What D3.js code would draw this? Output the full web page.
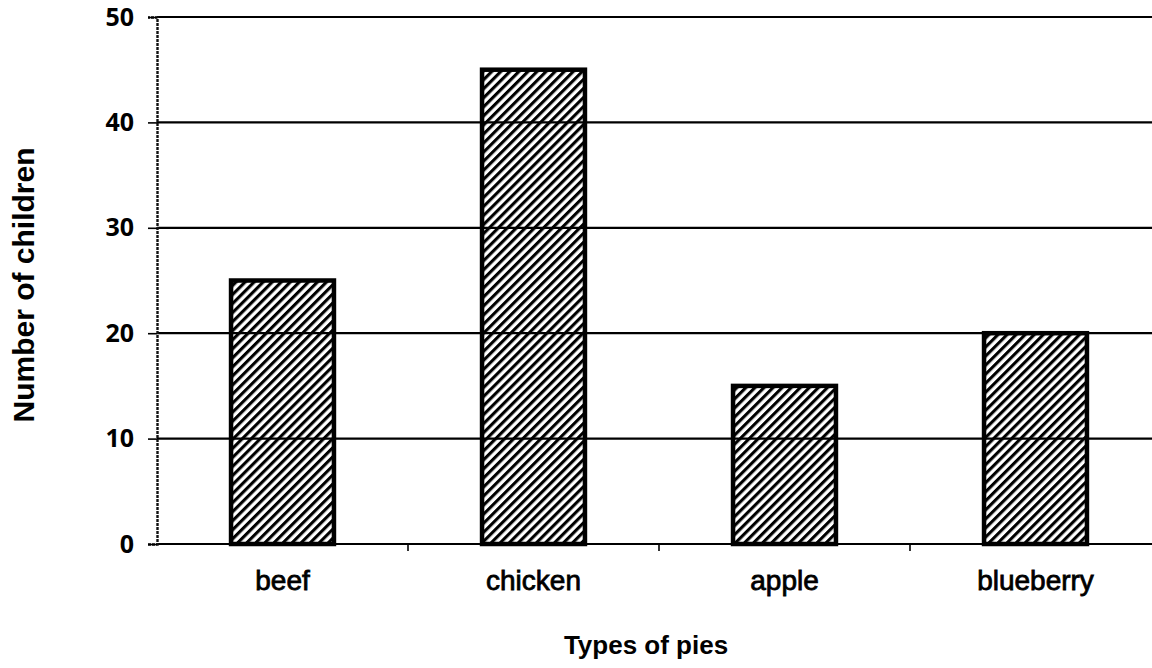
<!DOCTYPE html>
<html>
<head>
<meta charset="utf-8">
<script src="https://cdn.jsdelivr.net/npm/d3@7"></script>
<style>
  body { margin: 0; background: #fff; }
  svg { display: block; }
</style>
</head>
<body>
<div class="svg-container"></div>
<script>
const pies = ['beef', 'chicken', 'apple', 'blueberry']
const children = [25, 45, 15, 20]
const yTicks = [0, 10, 20, 30, 40, 50]

const width = 1152
const height = 668
const margin = { top: 17, right: -9, bottom: 124, left: 157 }

const svg = d3.select('.svg-container').append('svg')
  .attr('width', width)
  .attr('height', height)

// diagonal hatch for the bars
const defs = svg.append('defs')
defs.append('pattern')
  .attr('id', 'hatch')
  .attr('patternUnits', 'userSpaceOnUse')
  .attr('width', 6.4)
  .attr('height', 6.4)
  .attr('patternTransform', 'rotate(45)')
  .append('rect')
  .attr('x', 0)
  .attr('y', 0)
  .attr('width', 3.1)
  .attr('height', 6.4)
  .attr('fill', '#000')

const x = d3.scaleBand()
  .domain(pies)
  .range([margin.left, width - margin.right])
  .paddingInner(0.59)
  .paddingOuter(0.295)

const y = d3.scaleLinear()
  .domain([0, 50])
  .range([height - margin.bottom, margin.top])

// horizontal grid lines
svg.append('g')
  .selectAll('line')
  .data(yTicks)
  .enter()
  .append('line')
  .attr('x1', margin.left)
  .attr('x2', width)
  .attr('y1', d => y(d))
  .attr('y2', d => y(d))
  .attr('stroke', '#000')
  .attr('stroke-width', 2.2)

// y axis
const yAxis = svg.append('g')
  .attr('transform', `translate(${margin.left},0)`)
  .call(d3.axisLeft(y).tickValues(yTicks).tickSize(9).tickPadding(14))
yAxis.select('.domain')
  .attr('stroke', '#111')
  .attr('stroke-width', 2.4)
  .attr('stroke-dasharray', '3,1')
yAxis.selectAll('.tick line').attr('stroke', '#000').attr('stroke-width', 1.6)
yAxis.selectAll('.tick text')
  .attr('fill', '#000')
  .style('font-family', '"Open Sans", sans-serif')
  .style('font-weight', 'bold')
  .style('font-size', '25px')

// small ticks under the category boundaries
const bounds = pies.map(p => x(p) - x.step() * x.paddingOuter())
svg.append('g')
  .selectAll('line')
  .data(bounds.slice(1))
  .enter()
  .append('line')
  .attr('x1', d => d)
  .attr('x2', d => d)
  .attr('y1', y(0))
  .attr('y2', y(0) + 7)
  .attr('stroke', '#000')
  .attr('stroke-width', 1.6)

// bars
svg.append('g')
  .selectAll('rect')
  .data(children)
  .enter()
  .append('rect')
  .attr('x', (d, i) => x(pies[i]))
  .attr('y', d => y(d))
  .attr('width', x.bandwidth())
  .attr('height', d => y(0) - y(d))
  .attr('fill', 'url(#hatch)')
  .attr('stroke', '#000')
  .attr('stroke-width', 4.5)

// category labels
svg.append('g')
  .selectAll('text')
  .data(pies)
  .enter()
  .append('text')
  .attr('x', d => x(d) + x.bandwidth() / 2)
  .attr('y', 590)
  .attr('text-anchor', 'middle')
  .style('font-family', '"Liberation Sans", Arial, sans-serif')
  .style('font-size', '28px')
  .style('stroke', '#000')
  .style('stroke-width', 0.8)
  .text(d => d)

// axis titles
svg.append('text')
  .attr('x', 646)
  .attr('y', 654)
  .attr('text-anchor', 'middle')
  .style('font-family', '"Liberation Sans", Arial, sans-serif')
  .style('font-weight', 'bold')
  .style('font-size', '26px')
  .text('Types of pies')

svg.append('text')
  .attr('transform', 'translate(34,285) rotate(-90)')
  .attr('text-anchor', 'middle')
  .style('font-family', '"Liberation Sans", Arial, sans-serif')
  .style('font-weight', 'bold')
  .style('font-size', '30px')
  .text('Number of children')
</script>
</body>
</html>
